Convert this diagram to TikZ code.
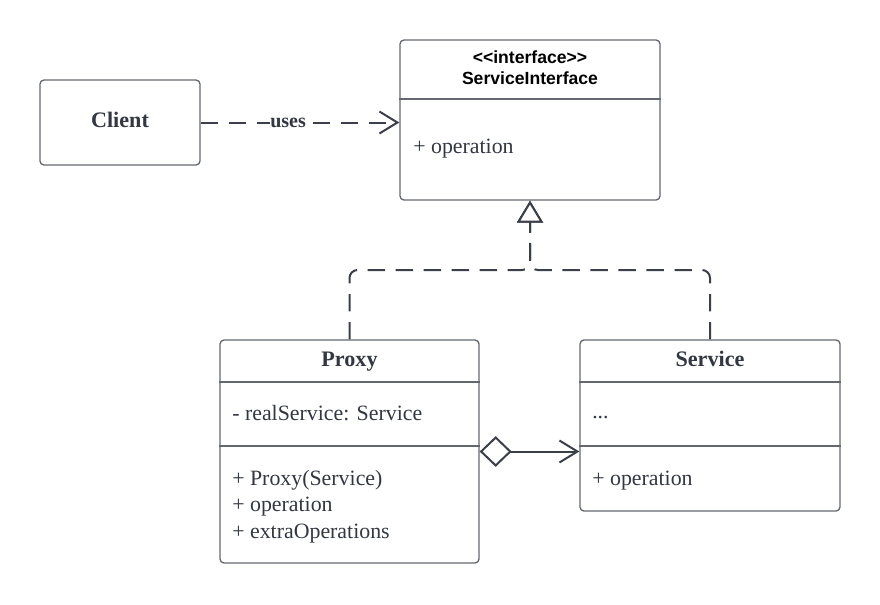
\documentclass[tikz,border=0pt]{standalone}
\usepackage{fontspec}
\setmainfont{Liberation Serif}
\newfontfamily\headfont{Liberation Sans}[Ligatures=TeXOff]
\usetikzlibrary{arrows.meta}
\definecolor{boxgray}{RGB}{100,104,110}
\definecolor{linedark}{RGB}{58,63,74}
\definecolor{textdark}{RGB}{50,55,65}
\begin{document}
\begin{tikzpicture}[x=0.75pt, y=-0.75pt,
	box/.style={draw=boxgray, line width=1pt, rounded corners=3pt, inner sep=0pt},
	divider/.style={draw=boxgray, line width=1pt},
	title/.style={anchor=base, inner sep=0pt, text=textdark, font=\fontsize{16.6}{19}\selectfont\bfseries},
	entry/.style={anchor=base west, inner sep=0pt, text=textdark, font=\fontsize{16.4}{19}\selectfont},
	head/.style={anchor=base, inner sep=0pt, font=\headfont\fontsize{13.2}{16}\selectfont\bfseries},
	link/.style={draw=linedark, line width=1.5pt},
	dashline/.style={link, dash pattern=on 13pt off 8pt}]
	\useasboundingbox (0,0) rectangle (880,604);

	\node[box, minimum width=120pt, minimum height=63.75pt] (client) at (120,122.5) {};
	\node[box, minimum width=195pt, minimum height=120pt] (iface) at (530,120) {};
	\node[box, minimum width=194.25pt, minimum height=167.25pt] (proxy) at (349.5,451.5) {};
	\node[box, minimum width=195pt, minimum height=128.25pt] (service) at (710,425.5) {};

	\draw[divider] (iface.west |- 0,99) -- (iface.east |- 0,99);
	\draw[divider] (proxy.west |- 0,382) -- (proxy.east |- 0,382);
	\draw[divider] (proxy.west |- 0,446) -- (proxy.east |- 0,446);
	\draw[divider] (service.west |- 0,382) -- (service.east |- 0,382);
	\draw[divider] (service.west |- 0,446) -- (service.east |- 0,446);

	\node[title] (clientname) at (120,127) {Client};
	\node[head] (stereo) at (530,63) {<<interface>>};
	\node[head] (ifacename) at (530,84) {ServiceInterface};
	\node[entry] (ifaceop) at (413,153) {+ operation};
	\node[title] (proxyname) at (349.5,366) {Proxy};
	\node[entry] (proxyattr) at (232,420) {- realService: Service};
	\node[entry] (proxyop1) at (232,485) {+ Proxy(Service)};
	\node[entry] (proxyop2) at (232,511) {+ operation};
	\node[entry] (proxyop3) at (232,538) {+ extraOperations};
	\node[title] (servicename) at (710,366) {Service};
	\node[entry] (serviceattr) at (592,418) {...};
	\node[entry] (serviceop) at (592,485) {+ operation};

	\draw[dashline, -{Straight Barb[length=13.5pt, width=16.5pt]}] (client.east) -- node[pos=0.44, fill=white, inner sep=0pt, text=textdark, font=\fontsize{15}{18}\selectfont\bfseries] (uses) {uses} (client.east -| iface.west);
	\coordinate (join) at (530,270);
	\draw[dashline, rounded corners=6pt, -{Triangle[fill=white, length=16.5pt, width=19.5pt]}] (proxy.north) |- (join) -- (iface.south);
	\draw[dashline, rounded corners=6pt, -{Triangle[fill=white, length=16.5pt, width=19.5pt]}] (service.north) |- (join) -- (iface.south);
	\draw[link, {Diamond[fill=white, length=24pt, width=23pt]}-{Straight Barb[length=13.5pt, width=16.5pt]}] (proxy.east) -- (proxy.east -| service.west);
\end{tikzpicture}
\end{document}
